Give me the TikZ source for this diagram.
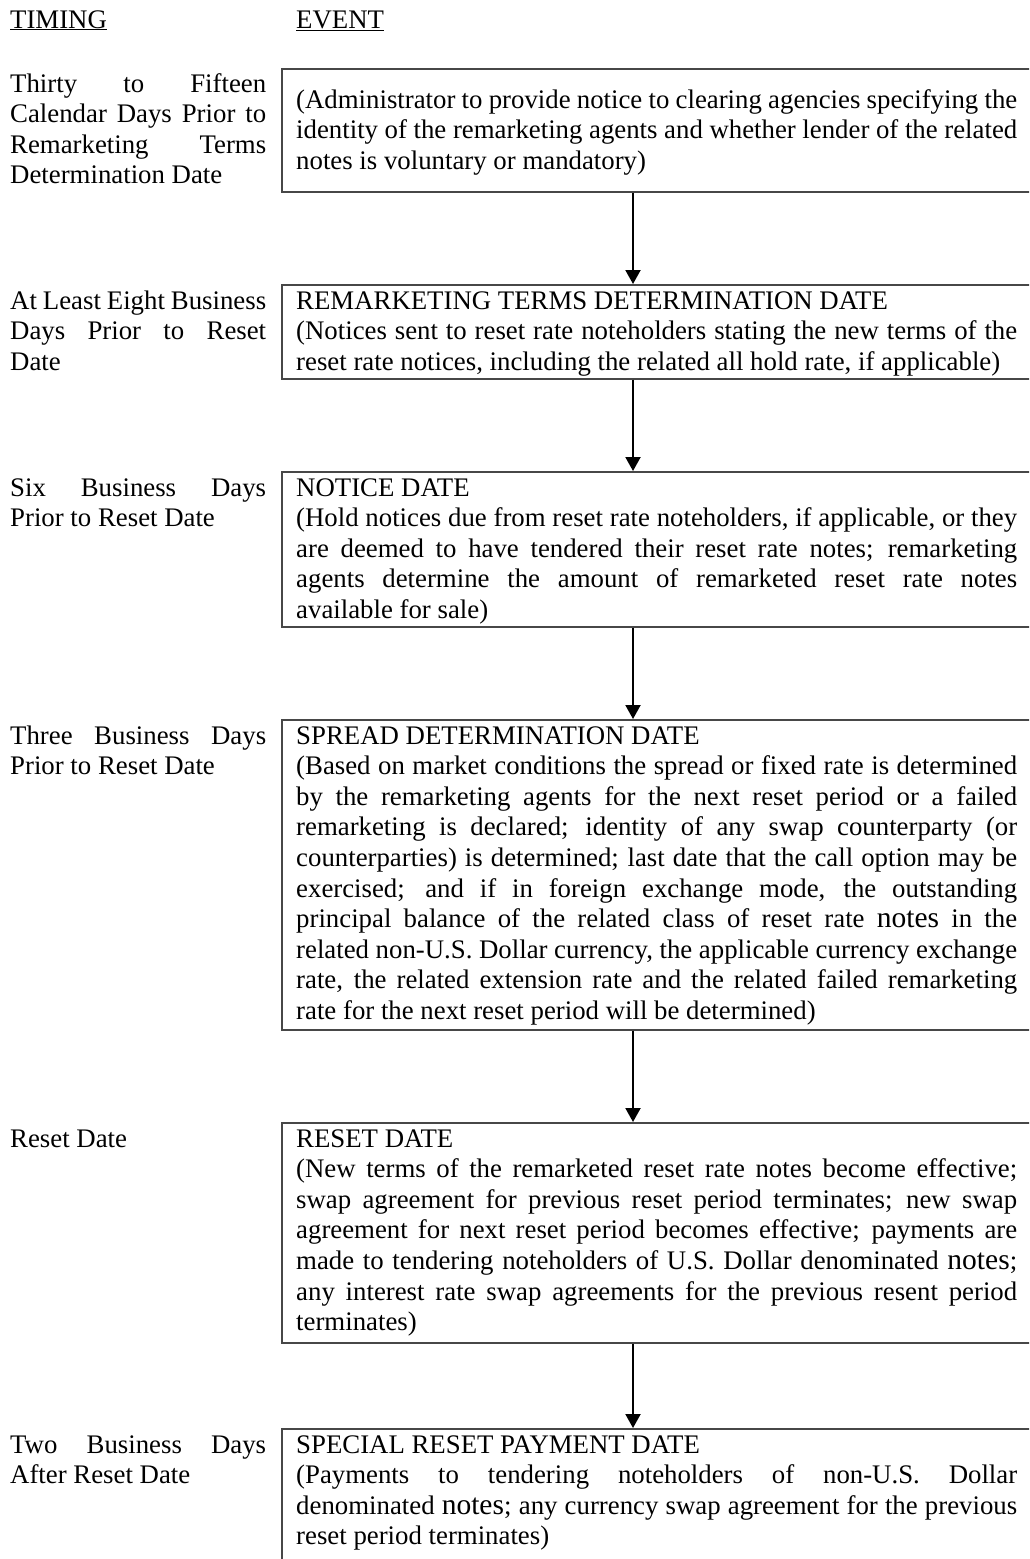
\documentclass[tikz,border=0pt]{standalone}
\usepackage{fontspec}
\setmainfont{Liberation Serif}
\usetikzlibrary{arrows.meta,calc}
\newcommand{\jl}[1]{\makebox[\linewidth][s]{#1}}
\newcommand{\bn}[1]{{\fontsize{29.5pt}{30.6pt}\selectfont #1}}
\newcommand{\fs}{\fontsize{26.8pt}{30.6pt}\selectfont}
\tikzset{
  evbox/.style={draw=black!72, line width=1.6pt, anchor=north west, minimum width=780pt, inner sep=0pt},
  txt/.style={anchor=base west, inner sep=0pt, font=\fs},
  arr/.style={line width=2pt, -{Triangle[length=14pt,width=15pt]}},
}
\begin{document}
\begin{tikzpicture}
\useasboundingbox (0,0) rectangle (1029pt,-1559pt);
\clip (0,0) rectangle (1029pt,-1559pt);
\fill[white] (0,0) rectangle (1029pt,-1559pt);

% headers
\node[txt] (hT) at (10pt,-28pt) {\underline{TIMING}};
\node[txt] (hE) at (296pt,-28pt) {\underline{EVENT}};

% event boxes
\node[evbox, minimum height=123pt] (b1) at (281pt,-68pt) {};
\node[evbox, minimum height=94pt]  (b2) at (281pt,-284pt) {};
\node[evbox, minimum height=155pt] (b3) at (281pt,-471pt) {};
\node[evbox, minimum height=310pt] (b4) at (281pt,-719pt) {};
\node[evbox, minimum height=220pt] (b5) at (281pt,-1122pt) {};
\node[evbox, minimum height=150pt] (b6) at (281pt,-1428pt) {};

% arrows
\coordinate (ax) at (633pt,0pt);
\draw[arr] (b1.south -| ax) -- (b2.north -| ax);
\draw[arr] (b2.south -| ax) -- (b3.north -| ax);
\draw[arr] (b3.south -| ax) -- (b4.north -| ax);
\draw[arr] (b4.south -| ax) -- (b5.north -| ax);
\draw[arr] (b5.south -| ax) -- (b6.north -| ax);

% timing texts
\node[txt] (t1) at (10pt,-92pt) {\parbox[t]{256pt}{\jl{Thirty to Fifteen}\\\jl{Calendar Days Prior to}\\\jl{Remarketing Terms}\\Determination Date}};
\node[txt] (t2) at (10pt,-309pt) {\parbox[t]{256pt}{\jl{At Least Eight Business}\\\jl{Days Prior to Reset}\\Date}};
\node[txt] (t3) at (10pt,-496pt) {\parbox[t]{256pt}{\jl{Six Business Days}\\Prior to Reset Date}};
\node[txt] (t4) at (10pt,-744pt) {\parbox[t]{256pt}{\jl{Three Business Days}\\Prior to Reset Date}};
\node[txt] (t5) at (10pt,-1147pt) {\parbox[t]{256pt}{Reset Date}};
\node[txt] (t6) at (10pt,-1453pt) {\parbox[t]{256pt}{\jl{Two Business Days}\\After Reset Date}};

% event texts
\node[txt] (e1) at (296pt,-108pt) {\parbox[t]{721pt}{%
\jl{(Administrator to provide notice to clearing agencies specifying the}\\
\jl{identity of the remarketing agents and whether lender of the related}\\
notes is voluntary or mandatory)}};
\node[txt] (e2) at (296pt,-309pt) {\parbox[t]{721pt}{%
REMARKETING TERMS DETERMINATION DATE\\
\jl{(Notices sent to reset rate noteholders stating the new terms of the}\\
reset rate notices, including the related all hold rate, if applicable)}};
\node[txt] (e3) at (296pt,-496pt) {\parbox[t]{721pt}{%
NOTICE DATE\\
\jl{(Hold notices due from reset rate noteholders, if applicable, or they}\\
\jl{are deemed to have tendered their reset rate notes; remarketing}\\
\jl{agents determine the amount of remarketed reset rate notes}\\
available for sale)}};
\node[txt] (e4) at (296pt,-744pt) {\parbox[t]{721pt}{%
SPREAD DETERMINATION DATE\\
\jl{(Based on market conditions the spread or fixed rate is determined}\\
\jl{by the remarketing agents for the next reset period or a failed}\\
\jl{remarketing is declared; identity of any swap counterparty (or}\\
\jl{counterparties) is determined; last date that the call option may be}\\
\jl{exercised; and if in foreign exchange mode, the outstanding}\\
\jl{principal balance of the related class of reset rate \bn{notes} in the}\\
\jl{related non-U.S. Dollar currency, the applicable currency exchange}\\
\jl{rate, the related extension rate and the related failed remarketing}\\
rate for the next reset period will be determined)}};
\node[txt] (e5) at (296pt,-1147pt) {\parbox[t]{721pt}{%
RESET DATE\\
\jl{(New terms of the remarketed reset rate notes become effective;}\\
\jl{swap agreement for previous reset period terminates; new swap}\\
\jl{agreement for next reset period becomes effective; payments are}\\
\jl{made to tendering noteholders of U.S. Dollar denominated \bn{notes};}\\
\jl{any interest rate swap agreements for the previous resent period}\\
terminates)}};
\node[txt] (e6) at (296pt,-1453pt) {\parbox[t]{721pt}{%
SPECIAL RESET PAYMENT DATE\\
\jl{(Payments to tendering noteholders of non-U.S. Dollar}\\
\jl{denominated \bn{notes}; any currency swap agreement for the previous}\\
reset period terminates)}};
\end{tikzpicture}
\end{document}
